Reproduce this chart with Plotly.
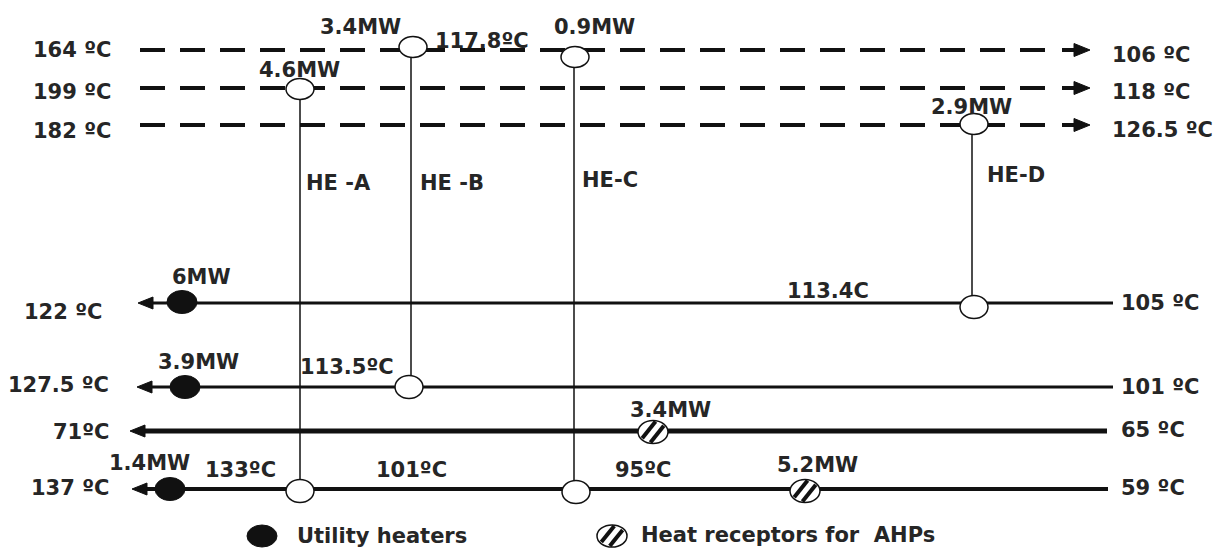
import numpy as np
import plotly.graph_objects as go

# ---------------- data ----------------
hot_streams = ["H1", "H2", "H3"]
hot_supply_T = ["164 ºC", "199 ºC", "182 ºC"]
hot_target_T = ["106 ºC", "118 ºC", "126.5 ºC"]

cold_streams = ["C1", "C2", "C3", "C4"]
cold_supply_T = ["105 ºC", "101 ºC", "65 ºC", "59 ºC"]
cold_target_T = ["122 ºC", "127.5 ºC", "71ºC", "137 ºC"]

exchangers = ["HE -A", "HE -B", "HE-C", "HE-D"]
exchanger_duty = ["4.6MW", "3.4MW", "0.9MW", "2.9MW"]
exchanger_hot = [1, 0, 0, 2]
exchanger_cold = [3, 1, 3, 0]

heater_cold = [0, 1, 3]
heater_duty = ["6MW", "3.9MW", "1.4MW"]

ahp_cold = [2, 3]
ahp_duty = ["3.4MW", "5.2MW"]

intermediate_T = ["117.8ºC", "113.4C", "113.5ºC", "133ºC", "101ºC", "95ºC"]

legend_labels = ["Utility heaters", "Heat receptors for\u00a0 AHPs"]

# ---------------- layout (pixel grid) ----------------
W, H = 1221, 549
hot_y = [50, 88, 125]
hot_x0, hot_x1 = 140, 1052
cold_y = [303, 387, 431, 489]
cold_tip = [138, 137, 130, 132]
cold_end = [1113, 1113, 1107, 1108]
cold_w = [3, 3, 5, 4]

ex_x = [300, 411, 574, 972]
ex_top_c = [(300, 89), (413, 47), (575, 57), (974, 124)]
ex_bot_c = [(300, 491), (409, 387), (576, 492), (974, 307)]

heater_c = [(182, 302), (185, 387), (170, 489)]
ahp_c = [(653, 432), (805, 491)]

ink = "#111111"
txt = "#262626"
FONT = "DejaVu Sans"
FS = 21

shapes = []
annotations = []


def label(x, y, s, xanchor="center", size=FS):
    annotations.append(dict(x=x, y=y, xref="x", yref="y", text="<b>%s</b>" % s,
                            showarrow=False, xanchor=xanchor, yanchor="middle",
                            font=dict(family=FONT, size=size, color=txt)))


def line(x0, y0, x1, y1, w, dash="solid", color=ink):
    shapes.append(dict(type="line", xref="x", yref="y", x0=x0, y0=y0, x1=x1, y1=y1,
                       line=dict(color=color, width=w, dash=dash), layer="above"))


def tri(xtip, y, xbase, h):
    shapes.append(dict(type="path", xref="x", yref="y",
                       path="M %g,%g L %g,%g L %g,%g Z" % (xtip, y, xbase, y - h, xbase, y + h),
                       fillcolor=ink, line=dict(color=ink, width=1), layer="above"))


def ellipse(cx, cy, a, b, fill="white", lw=1.5):
    shapes.append(dict(type="circle", xref="x", yref="y", x0=cx - a, x1=cx + a,
                       y0=cy - b, y1=cy + b, fillcolor=fill,
                       line=dict(color=ink, width=lw), layer="above"))


def hatched(cx, cy, a=15, b=11.5):
    ellipse(cx, cy, a, b)
    d = np.array([1.0, -1.25]); d /= np.linalg.norm(d)
    n = np.array([-d[1], d[0]])
    for s in (-4.5, 4.5):
        A = (d[0] / a) ** 2 + (d[1] / b) ** 2
        B = 2 * (s * n[0] * d[0] / a ** 2 + s * n[1] * d[1] / b ** 2)
        C = (s * n[0] / a) ** 2 + (s * n[1] / b) ** 2 - 1
        disc = B * B - 4 * A * C
        if disc <= 0:
            continue
        t1 = (-B - np.sqrt(disc)) / (2 * A) * 0.9
        t2 = (-B + np.sqrt(disc)) / (2 * A) * 0.9
        p1 = np.array([cx, cy]) + s * n + t1 * d
        p2 = np.array([cx, cy]) + s * n + t2 * d
        line(p1[0], p1[1], p2[0], p2[1], 4)


# vertical exchanger connections
for i, name in enumerate(exchangers):
    line(ex_x[i], ex_top_c[i][1], ex_x[i], ex_bot_c[i][1], 1.5)

# hot streams (dashed, flowing right)
for i, s in enumerate(hot_streams):
    y = hot_y[i]
    line(hot_x0, y, hot_x1, y, 4, dash="25px,15px")
    line(1062, y, 1078, y, 4)
    tri(1090, y, 1074, 6.5)

# cold streams (solid, flowing left)
for i, s in enumerate(cold_streams):
    y = cold_y[i]
    line(cold_tip[i] + 10, y, cold_end[i], y, cold_w[i])
    tri(cold_tip[i], y, cold_tip[i] + 15, 6)

# exchanger circles
for i in range(len(exchangers)):
    ellipse(ex_top_c[i][0], ex_top_c[i][1], 14, 10.5)
    ellipse(ex_bot_c[i][0], ex_bot_c[i][1], 14, 11.5)

# utility heaters
for c in heater_c:
    ellipse(c[0], c[1], 15, 11.5, fill=ink, lw=1)

# AHP heat receptors
for c in ahp_c:
    hatched(c[0], c[1])

# legend symbols
ellipse(262, 536, 15, 11, fill=ink, lw=1)
hatched(612, 536, 15, 11)

# ---------------- text ----------------
hot_left_y = [50, 92, 131]
hot_right_y = [55, 92, 130]
for i in range(len(hot_streams)):
    label(113, hot_left_y[i], hot_supply_T[i], "right")
    label(1110, hot_right_y[i], hot_target_T[i], "left")

cold_left = [(104, 312), (111, 385), (111, 432), (111, 488)]
cold_right_y = [303, 387, 430, 488]
for i in range(len(cold_streams)):
    label(cold_left[i][0], cold_left[i][1], cold_target_T[i], "right")
    label(1119, cold_right_y[i], cold_supply_T[i], "left")

duty_pos = [(299, 70), (360, 27), (594, 27), (971, 107)]
name_pos = [(338, 183), (452, 183), (610, 180), (1016, 175)]
for i in range(len(exchangers)):
    label(*duty_pos[i], exchanger_duty[i])
    label(*name_pos[i], exchangers[i])

heater_lab = [(201, 277), (198, 362), (149, 463)]
for i in range(len(heater_duty)):
    label(*heater_lab[i], heater_duty[i])

ahp_lab = [(670, 410), (817, 465)]
for i in range(len(ahp_duty)):
    label(*ahp_lab[i], ahp_duty[i])

inter_pos = [(482, 41), (828, 291), (347, 367), (240, 470), (411, 470), (643, 470)]
for i in range(len(intermediate_T)):
    label(*inter_pos[i], intermediate_T[i])

label(295, 536, legend_labels[0], "left")
label(639, 535, legend_labels[1], "left")

fig = go.Figure()
fig.add_trace(go.Scatter(x=[0, W], y=[0, H], mode="markers",
                         marker=dict(opacity=0), hoverinfo="skip", showlegend=False))
fig.update_layout(
    width=W, height=H, margin=dict(l=0, r=0, t=0, b=0),
    paper_bgcolor="white", plot_bgcolor="white",
    xaxis=dict(range=[0, W], visible=False, fixedrange=True),
    yaxis=dict(range=[H, 0], visible=False, fixedrange=True),
    shapes=shapes, annotations=annotations, showlegend=False,
)
fig.write_html("out.html", post_script="document.body.style.margin='0';",
               config={"displayModeBar": False})
